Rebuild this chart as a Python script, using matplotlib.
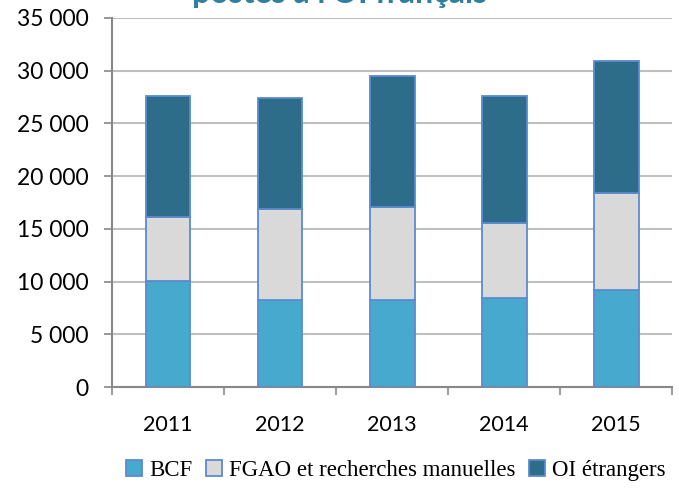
import matplotlib.pyplot as plt
import numpy as np

years = ['2011', '2012', '2013', '2014', '2015']
bcf = [10100, 8270, 8270, 8420, 9240]
fgao = [6040, 8590, 8820, 7110, 9200]
oi_etr = [11490, 10540, 12370, 12100, 12510]
labels = ['BCF', 'FGAO et recherches manuelles', 'OI étrangers']
colors = ['#48a9cf', '#d9d9d9', '#2e6d89']
y_ticks = [0, 5000, 10000, 15000, 20000, 25000, 30000, 35000]


def fmt(v):
    return f"{v:,}".replace(',', ' ')


def main():
    fig = plt.figure(figsize=(6.79, 4.95), dpi=100)
    ax = fig.add_axes([0.165, 0.218, 0.825, 0.746])

    x = np.arange(len(years))
    bottom = np.zeros(len(years))
    for vals, lab, col in zip([bcf, fgao, oi_etr], labels, colors):
        ax.bar(x, vals, width=0.4, bottom=bottom, color=col, label=lab,
               edgecolor='#5b8bd0', linewidth=1.3, zorder=3)
        bottom += np.array(vals)

    ax.set_ylim(0, 35000)
    ax.set_xlim(-0.5, len(years) - 0.5)
    ax.set_yticks(y_ticks)
    ax.set_yticklabels([fmt(v) for v in y_ticks], fontsize=16.5, family='Lato')
    ax.set_xticks(x)
    ax.set_xticklabels(years, fontsize=15.5, family='Lato')
    ax.tick_params(axis='x', length=0, pad=20)
    ax.set_xticks(np.arange(len(years) + 1) - 0.5, minor=True)
    ax.tick_params(axis='x', which='minor', length=6, color='#888888', width=1.2)
    ax.tick_params(axis='y', length=6, color='#888888', width=1.2, pad=11)

    ax.grid(axis='y', color='#bfbfbf', linewidth=1.5, zorder=0)
    for s in ['top', 'right']:
        ax.spines[s].set_visible(False)
    for s in ['left', 'bottom']:
        ax.spines[s].set_color('#888888')
        ax.spines[s].set_linewidth(1.5)

    # title clipped by the top edge
    fig.text(0.5, 1 - 3 / 495, "postés à l'OI français", ha='center',
             va='baseline', fontsize=23, fontweight='bold', color='#2f80a0',
             family='Lato')

    ax.legend(loc='center', bbox_to_anchor=(0.583, 0.05),
              bbox_transform=fig.transFigure, ncol=3, frameon=False,
              prop={'family': 'Liberation Serif', 'size': 16.5},
              handlelength=0.7, handleheight=0.7, handletextpad=0.3,
              columnspacing=0.6)

    fig.savefig('out.png', dpi=100)


if __name__ == '__main__':
    main()
